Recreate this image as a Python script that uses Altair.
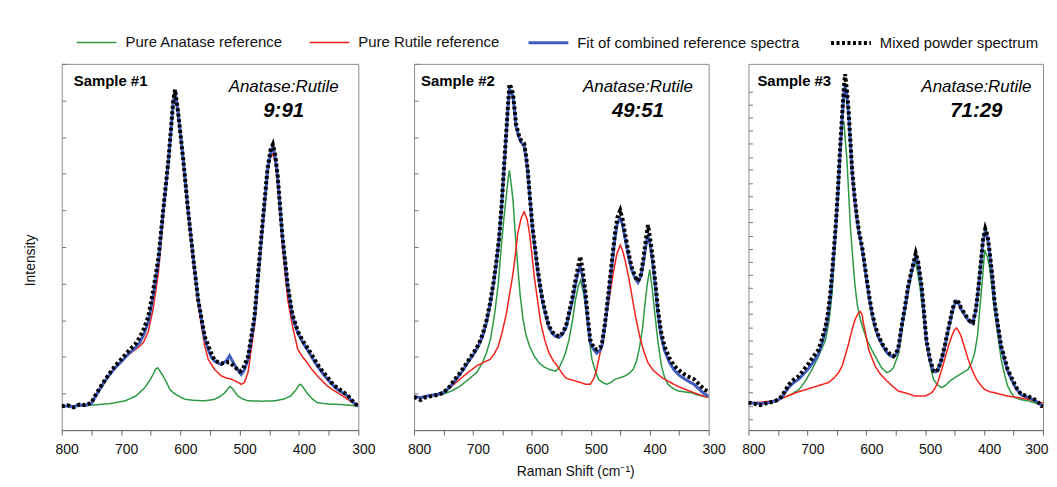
import altair as alt
import pandas as pd

SERIES = ["Pure Anatase reference", "Pure Rutile reference",
          "Fit of combined reference spectra", "Mixed powder spectrum"]
COLORS = ["#2c9a44", "#f3231c", "#3f5cbf", "#000000"]
DASHES = [[1, 0], [1, 0], [1, 0], [3, 2.5]]
WIDTHS = [1.5, 1.5, 3, 4]

X_TICKS = [800, 750, 700, 650, 600, 550, 500, 450, 400, 350, 300]
Y_TICKS_A = [0, 10, 20, 30, 40, 50, 60, 70, 80, 90, 100]
Y_TICKS_B = [3.0, 6.6, 10.2, 13.9, 17.3, 20.9, 24.5, 28.1, 31.7, 35.1, 38.8, 42.4, 46.0,
             49.5, 53.1, 56.7, 60.3, 63.9, 67.5, 71.1, 74.5, 78.2, 81.8, 85.4, 88.9, 92.5]

SAMPLES = ["Sample #1", "Sample #2", "Sample #3"]
RATIOS = ["9:91", "49:51", "71:29"]

# ---------------- Sample #1 (wavenumber, intensity) ----------------
p1_anatase = [(800, 6.6), (760, 6.7), (720, 7.2), (693, 8), (675, 9.3), (660, 11.6), (652, 13.5),
              (646, 15.2), (641, 16.8), (638, 17), (634, 16), (626, 13.9), (618, 11.2), (612, 10.2),
              (600, 9), (592, 8.4), (575, 8.1), (559, 8), (542, 8.4), (533, 9.2), (525, 10.2),
              (519, 11.5), (516, 11.9), (512, 11.3), (503, 9.3), (495, 8.5), (486, 8), (460, 7.9),
              (441, 8), (425, 8.5), (414, 9.3), (405, 11), (399, 12.5), (396, 12.3), (390, 11),
              (385, 9.8), (376, 8.3), (369, 7.5), (350, 7.1), (330, 7), (300, 6.6)]
p1_rutile = [(800, 6.5), (780, 6.6), (760, 6.8), (750, 7.3), (744, 9), (732, 12.3), (721, 15),
             (710, 17), (699, 19), (688, 20.5), (676, 22), (668, 23), (662, 24), (654, 27), (646, 33),
             (637, 43), (629, 58), (626, 64), (620, 75), (612, 89), (609, 91.5), (604, 86),
             (595, 72.5), (587, 58.5), (578, 45), (570, 34), (559, 23), (553, 19.3), (542, 16.5),
             (531, 14.8), (522, 14.2), (514, 13.9), (505, 13.2), (497, 12.5), (492, 13), (486, 15.7),
             (475, 28.4), (464, 50), (453, 70), (448, 74.5), (444, 75.5), (440, 73), (436, 67),
             (428, 50), (419, 35.6), (411, 28.4), (402, 22), (394, 20), (386, 18.4), (378, 16.5),
             (369, 14.8), (360, 13.3), (352, 12), (343, 11), (335, 10.2), (326, 9.3), (318, 8.4),
             (310, 7.5), (300, 6.6)]
p1_fit = [(800, 6.5), (790, 6.6), (780, 6.4), (770, 6.9), (760, 6.7), (750, 7.3), (744, 9),
          (732, 12.2), (721, 14.8), (710, 17), (699, 18.8), (688, 20.7), (676, 22.5), (668, 24),
          (662, 26), (654, 29.5), (646, 36.5), (637, 46), (629, 59.5), (620, 73.5), (612, 89.5),
          (609, 92.5), (604, 87), (595, 73.6), (587, 60), (578, 46.5), (570, 35.6), (559, 25),
          (553, 22), (548, 20), (542, 18.8), (531, 17.9), (522, 19), (517, 20.3), (512, 18.8),
          (506, 17), (497.5, 15.2), (492, 16.5), (486, 19.3), (475, 30.2), (464, 51), (453, 71),
          (448, 75.5), (444, 77.7), (440, 74.5), (436, 69), (428, 52.8), (419, 39.2), (411, 31),
          (402, 26.5), (394, 24), (386, 22), (378, 19.8), (369, 17.5), (360, 15.5), (352, 13.9),
          (343, 12.3), (335, 11.1), (326, 10.2), (318, 9.3), (310, 7.8), (301, 6.6), (300, 6.5)]
p1_mixed = [(800, 6.5), (790, 6.8), (780, 6.2), (770, 7.0), (760, 6.8), (750, 7.5), (744, 9.3),
            (732, 12.5), (721, 15.2), (710, 17.5), (699, 19.5), (688, 21.5), (676, 23.5),
            (668, 25.5), (662, 27.5), (654, 31), (646, 38), (637, 47), (629, 60), (620, 74),
            (612, 90), (609, 93), (604, 87), (595, 73.6), (587, 60), (578, 46.5), (570, 35.6),
            (559, 25.6), (548, 21), (542, 19), (531, 18.2), (522, 18.5), (517, 18.5), (510, 17.5),
            (500, 16), (495, 16.5), (486, 20), (475, 31), (464, 52), (453, 71.5), (448, 76.5),
            (444, 78), (440, 75), (436, 69.5), (428, 53), (419, 39.5), (411, 31.5), (402, 27),
            (394, 24.5), (386, 22.5), (378, 20.5), (369, 18), (360, 16), (352, 14.5), (343, 12.5),
            (335, 11.5), (326, 10.5), (318, 9.5), (310, 8), (301, 6.6), (300, 6.5)]

# ---------------- Sample #2 ----------------
p2_anatase = [(800, 9), (780, 9.2), (760, 9.5), (750, 9.8), (735, 10.8), (722, 12), (708, 13.8),
              (694, 15.7), (685, 18), (677, 21.1), (670, 25), (663, 32), (657, 40), (652, 50),
              (648, 57), (643, 64.6), (640, 69), (638, 70.9), (635, 67), (632, 62.7), (628, 53),
              (624, 44.7), (620, 37), (615, 30.2), (610, 26), (604, 22.9), (596, 20.2), (588, 18.4),
              (580, 17.3), (571, 16.6), (560, 16.1), (554, 17), (548, 19), (543, 21), (537, 24.7),
              (531, 30), (526, 35.6), (521, 39.5), (517, 41), (512, 37), (506, 30.2), (502, 24),
              (498, 19.3), (492, 16), (487, 13.9), (480, 13), (473, 12.5), (466, 13), (459, 13.9),
              (450, 14.3), (442, 14.8), (435, 15.5), (428, 16.6), (422, 19), (417, 22.9), (412, 28),
              (408.5, 33.8), (404, 40), (400, 43.8), (396, 39), (392, 32.9), (386, 24), (380, 17.5),
              (375, 14.5), (369, 12.5), (360, 11.3), (352, 10.7), (340, 10.4), (330, 10.2),
              (316, 9.5), (300, 8.9)]
p2_rutile = [(800, 9), (780, 9.2), (760, 9.6), (750, 10.2), (736, 12), (722, 13.9), (708, 15.8),
             (694, 17.5), (682, 18.5), (671, 19.3), (664, 20.8), (657, 22.9), (650, 27), (643, 32),
             (638, 37), (632, 42.8), (628, 48), (624, 53.7), (618, 58), (613, 59.6), (608, 57.5),
             (604, 53.7), (600, 48), (596, 42), (590, 35), (585, 29.3), (578, 24.5), (571, 21.1),
             (564, 19), (557, 17.5), (550, 15.8), (543, 14.3), (535, 13.8), (526, 13.4), (517, 13),
             (509, 12.5), (501, 12.5), (495, 14), (490, 16.6), (483, 22), (476, 28.4), (469, 35.5),
             (462, 42.8), (456, 48), (450, 50.5), (446, 49), (442, 46.5), (436, 42), (431, 37.4),
             (424, 31), (417, 25.6), (410, 21.5), (403, 18.4), (395, 16.5), (386, 15.2), (378, 14.2),
             (369, 13.4), (358, 12.4), (347, 11.6), (336, 10.9), (325, 10.2), (313, 9.5), (300, 8.9)]
p2_fit = [(800, 9.2), (789, 8.8), (780, 9.2), (772, 9.5), (760, 9.8), (750, 10.3), (740, 11.6),
          (733, 13), (724, 14.8), (716, 16.6), (708, 18.6), (699, 20.7), (690, 23.2), (683, 26),
          (677, 29.5), (671, 34.2), (665, 40), (660, 46), (656, 51.5), (652, 59.5), (648, 69.5),
          (643, 82), (640, 89.5), (638, 93), (635, 92.5), (632, 91), (629, 86.5), (627, 83),
          (622, 80), (618, 78.5), (613, 77.5), (610, 74.5), (607, 70.5), (603, 62.5), (599, 55),
          (594, 48.5), (590, 43.3), (586, 39), (582, 35.2), (576, 31), (571, 28), (565, 26.3),
          (560, 25.6), (554, 25.3), (548, 26.2), (542, 28), (537, 31.5), (531, 35.5), (526, 39.8),
          (521, 43.5), (518, 44.7), (514, 42), (509, 36), (505, 29.5), (501, 24), (495, 22),
          (490, 21), (484, 21.8), (481, 23), (476, 28.5), (470, 36.5), (465, 44), (459, 52.5),
          (455, 56.5), (450, 57.8), (446, 56), (442, 52.5), (436, 47.5), (431, 44), (425, 41.5),
          (420, 40.3), (415, 42), (411, 45.5), (407, 50), (403, 53.3), (399, 50.5), (394.5, 45),
          (390, 38.5), (386, 32), (381, 26), (375, 21.8), (366, 18.3), (358, 16.3), (350, 15),
          (341, 14), (333, 13.2), (325, 12.5), (316, 11.2), (308, 10), (300, 9.3)]
p2_mixed = [(800, 9), (795, 8.7), (789, 8.2), (780, 9), (772, 9.2), (760, 9.6), (750, 10.2),
            (740, 11.8), (733, 13.4), (724, 15.2), (716, 17), (708, 19), (699, 21.1), (690, 23.5),
            (683, 26.5), (677, 30), (671, 34.7), (665, 40.5), (660, 46.5), (656, 52), (652, 60),
            (648, 70), (643, 82.7), (640, 90), (638, 94.5), (635, 93.5), (632, 91.8), (629, 87),
            (627, 83.6), (622, 80.5), (618, 79), (613, 78.2), (610, 75), (607, 71), (603, 63),
            (599, 55.5), (594, 49), (590, 43.8), (586, 39.5), (582, 35.6), (576, 31.5), (571, 28.4),
            (565, 26.8), (560, 26), (554, 25.6), (548, 26.5), (542, 28.5), (537, 32), (531, 36.5),
            (526, 41), (521, 45), (518, 47.4), (514, 44), (509, 37.4), (505, 30.5), (501, 24.7),
            (495, 22.5), (490, 22), (484, 22.5), (481, 23.8), (476, 29), (470, 37.4), (465, 45),
            (459, 53.7), (455, 58), (450, 60), (446, 57.5), (442, 53.7), (436, 48.5), (431, 44.7),
            (425, 42), (420, 40.6), (415, 42.5), (411, 46.5), (407, 51.5), (403, 56), (399, 52),
            (394.5, 46.5), (390, 39.5), (386, 32.9), (381, 27), (375, 22.9), (366, 19.5),
            (358, 17.5), (350, 16.3), (341, 15.2), (333, 14.5), (325, 13.9), (316, 12.5),
            (308, 11.1), (300, 10.5)]

# ---------------- Sample #3 ----------------
p3_anatase = [(800, 7.5), (780, 7.3), (760, 7.8), (748, 8.4), (730, 9.5), (714, 11.1), (703, 13.5),
              (692, 16.6), (680, 20.5), (669, 24.7), (663, 30), (658, 37.4), (654, 48), (650, 60),
              (645, 74), (641, 83.6), (638, 84), (636, 80), (633, 74.3), (630, 65), (627, 55.5),
              (623, 47), (619, 39.2), (615, 34), (610, 30.2), (605, 27.5), (599, 24.7), (592, 22.3),
              (585, 20.2), (579, 18.5), (574, 17), (565, 15.7), (559, 16.2), (554, 17), (549, 19.2),
              (545, 21), (540, 26.5), (535, 32), (529, 37.4), (523, 43), (518, 46.5), (514, 44),
              (509, 39.2), (503, 31), (498, 23.8), (492, 18), (486, 13.9), (479, 12.3), (472, 11.6),
              (465, 12.3), (458, 13.4), (450, 14.3), (441, 15.2), (434, 15.9), (427, 16.6),
              (421, 18.5), (416, 21.1), (411, 26), (408, 32), (403, 41), (399, 49.2), (395, 47.5),
              (391, 44.7), (386, 38), (382, 32), (376, 25), (371, 19.3), (365, 15), (360, 12),
              (354, 10.2), (348, 8.9), (337, 8.3), (326, 8), (315, 7.5), (303, 7), (300, 7)]
p3_rutile = [(800, 7.5), (780, 7.6), (760, 8), (748, 8.4), (734, 9.3), (720, 10.2), (706, 10.9),
             (692, 11.6), (678, 12.3), (664, 13), (655, 14.2), (647, 15.7), (641, 17.5), (636, 20.2),
             (631, 23), (627, 25.6), (623, 28), (619, 30.2), (614, 31.8), (610, 32.4), (607, 31.5),
             (605, 29.3), (600, 25.5), (596, 22), (590, 19.5), (585, 17.5), (577, 15.5), (568, 13.9),
             (557, 12.2), (546, 10.7), (534, 10.2), (517, 9.3), (500, 9.3), (489, 10.2), (483, 11.5),
             (478, 13.4), (472, 16.5), (467, 19.3), (461, 22.8), (455, 25.6), (451, 27.2),
             (447, 27.9), (443, 27), (439, 25.6), (433, 22.5), (427, 19.3), (420, 16.3), (413, 13.9),
             (406, 12.3), (399, 11.1), (391, 10.5), (382, 10.2), (371, 9.7), (360, 9.3), (343, 8.9),
             (326, 8.4), (315, 8), (303, 7.5), (300, 7.5)]
p3_fit = [(800, 7.5), (790, 7.3), (780, 7.2), (765, 7.5), (754, 8), (748, 8.4), (743, 9),
          (737, 10.5), (731, 11.8), (723, 13), (714, 14), (706, 15.4), (697, 17), (689, 18.8),
          (681, 20.8), (675, 23.8), (669, 27.3), (665, 31), (661, 36.5), (657, 44), (652, 54.5),
          (648, 65), (644, 77), (641, 85), (638, 92), (636, 94), (633, 91.5), (630, 86), (627, 78.5),
          (624, 70.5), (620, 63.5), (616, 57.8), (612, 53.5), (607, 49.5), (603, 45), (599, 40.5),
          (595, 36), (590, 31.5), (585, 28), (579, 25.2), (572, 23), (565, 21.2), (560, 20.4),
          (554, 20), (549, 20.8), (545, 22.7), (540, 28), (534, 33.6), (529, 38.8), (524, 42.5),
          (520, 45.2), (516, 47.6), (512, 45.5), (506, 38.8), (502, 31.5), (498, 24.3), (492, 19),
          (486, 16), (482, 15.9), (478, 16.6), (472, 19.3), (467, 22.6), (461, 27.2), (455, 31.6),
          (451, 34), (447, 35.2), (443, 34.5), (439, 33), (433, 31.5), (427, 30), (423, 29.4),
          (419, 29.2), (414, 32.8), (410, 38), (406, 44.6), (402, 51.4), (398, 54.4), (394, 52.5),
          (391, 48.8), (386, 41.6), (382, 34.3), (376, 27.6), (371, 22.5), (365, 19), (360, 16.2),
          (354, 14), (348, 12), (343, 10.8), (337, 9.6), (326, 9), (315, 8.2), (309, 7.6),
          (303, 6.8), (300, 6.6)]
p3_mixed = [(800, 7.5), (790, 7.2), (780, 6.8), (776, 7), (765, 7.5), (754, 8), (748, 8.5),
            (743, 9.3), (737, 11), (731, 12.5), (723, 13.8), (714, 14.8), (706, 16.5), (697, 18.4),
            (689, 20.2), (681, 22), (675, 25), (669, 28.4), (665, 32), (661, 37.4), (657, 45),
            (652, 55.5), (648, 66), (644, 78.2), (641, 86), (638, 93.6), (636, 97.2), (633, 93),
            (630, 87.2), (627, 79), (624, 71), (620, 64), (616, 58.2), (612, 54), (607, 50),
            (603, 45.5), (599, 41), (595, 36.5), (590, 32), (585, 28.5), (579, 25.6), (572, 23.3),
            (565, 21.6), (560, 20.8), (554, 20.2), (549, 21), (545, 23), (540, 28.4), (534, 34),
            (529, 39.2), (524, 43), (520, 45.6), (516, 48.3), (512, 46), (506, 39.2), (502, 32),
            (498, 24.7), (492, 19.5), (486, 16.1), (482, 15.8), (478, 16.6), (472, 19.5),
            (467, 22.9), (461, 27.5), (455, 32), (451, 34.5), (447, 35.6), (443, 34.8), (439, 33.3),
            (433, 31.8), (427, 30.2), (423, 29.6), (419, 29.3), (414, 33), (410, 38.3), (406, 45),
            (402, 51.9), (398, 55), (394, 53), (391, 49.2), (386, 42), (382, 34.7), (376, 28),
            (371, 22.9), (365, 19.5), (360, 16.6), (354, 14.5), (348, 12.5), (343, 11),
            (337, 9.8), (326, 9.3), (315, 8.4), (309, 7.8), (303, 6.6), (300, 6.5)]

PANELS = [
    [p1_anatase, p1_rutile, p1_fit, p1_mixed],
    [p2_anatase, p2_rutile, p2_fit, p2_mixed],
    [p3_anatase, p3_rutile, p3_fit, p3_mixed],
]

FONT = "Liberation Sans, Arial, Helvetica, sans-serif"


def to_frame(pairs, series):
    return pd.DataFrame({"shift": [p[0] for p in pairs],
                         "intensity": [p[1] for p in pairs],
                         "series": series})


legend = alt.Legend(title=None, orient="none", legendX=13, legendY=-43, direction="horizontal",
                    columns=4, symbolType="stroke", symbolSize=1600, labelFontSize=15,
                    labelFont=FONT, labelColor="#111", labelOffset=7, columnPadding=23, padding=0,
                    labelLimit=400)
color_enc = alt.Color("series:O", sort=SERIES,
                      scale=alt.Scale(type="ordinal", domain=SERIES, range=COLORS), legend=legend)
dash_enc = alt.StrokeDash("series:O", sort=SERIES,
                          scale=alt.Scale(type="ordinal", domain=SERIES, range=DASHES),
                          legend=legend)
width_enc = alt.StrokeWidth("series:O", sort=SERIES,
                            scale=alt.Scale(type="ordinal", domain=SERIES, range=WIDTHS),
                            legend=legend)


def text_layer(s, x, y, size, weight, style, align):
    return alt.Chart(pd.DataFrame({"t": [s]})).mark_text(
        align=align, baseline="middle", fontSize=size, fontWeight=weight, fontStyle=style,
        font=FONT, color="black").encode(text="t:N", x=alt.value(x), y=alt.value(y))


def panel(i, width, yticks, sample_x, ratio_x):
    last_right = i == 2
    x_axis = alt.Axis(values=X_TICKS, labelExpr="datum.value % 100 === 0 ? datum.label : ''",
                      grid=False, tickSize=5, labelPadding=8, labelFontSize=14, labelFont=FONT,
                      labelColor="#111", domainColor="#666", tickColor="#666", labelFlush=False,
                      labelOffset=5,
                      labelAlign=({"condition": {"test": "datum.value === 300", "value": "right"},
                                   "value": "center"} if last_right else "center"),
                      title="Raman Shift (cm\u207b\u00b9)" if i == 1 else None,
                      titleFontSize=14, titleFont=FONT, titleFontWeight="normal",
                      titleColor="#111", titlePadding=8, titleX=162)
    y_axis = alt.Axis(values=yticks, labels=False, domain=False, grid=False, tickSize=4, offset=-4,
                      tickColor="#777",
                      title="Intensity" if i == 0 else None, titleFontSize=14, titleFont=FONT,
                      titleFontWeight="normal", titleColor="#111", titlePadding=24, titleY=197)
    x = alt.X("shift:Q", scale=alt.Scale(domain=[300, 800], reverse=True, nice=False, zero=False),
              axis=x_axis)
    y = alt.Y("intensity:Q", scale=alt.Scale(domain=[0, 100], nice=False, zero=False), axis=y_axis)
    layers = []
    for s, pairs in zip(SERIES, PANELS[i]):
        layers.append(alt.Chart(to_frame(pairs, s)).mark_line(clip=True).encode(
            x=x, y=y, color=color_enc, strokeDash=dash_enc, strokeWidth=width_enc))
    layers.append(text_layer(SAMPLES[i], sample_x, 17, 15, "bold", "normal", "left"))
    layers.append(text_layer("Anatase:Rutile", ratio_x, 23, 17, "normal", "italic", "center"))
    layers.append(text_layer(RATIOS[i], ratio_x, 47, 20.5, "bold", "italic", "center"))
    return alt.layer(*layers).properties(width=width, height=368)


p1 = panel(0, 298, Y_TICKS_A, 12, 223)
p2 = panel(1, 296, Y_TICKS_A, 7, 225)
p3 = panel(2, 296, Y_TICKS_B, 9, 229)

chart = alt.hconcat(p1, alt.hconcat(p2, p3, spacing=14), spacing=30).properties(
    padding={"left": 15, "top": 12, "right": 0, "bottom": 0}
).configure(font=FONT).configure_view(stroke="#8c8c8c", strokeWidth=1)

chart.save("out.html", embed_options={"renderer": "svg", "actions": False})
